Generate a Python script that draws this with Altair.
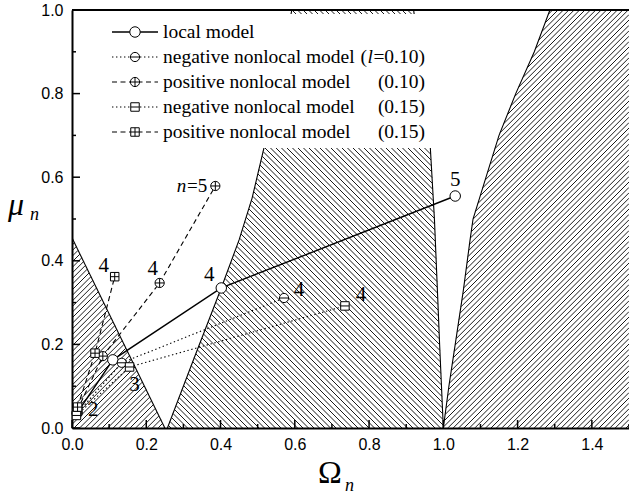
import altair as alt
import numpy as np
import pandas as pd

W, H = 557, 418          # plot area in px
OM_MAX, MU_MAX = 1.5, 1.0

# ---- region boundaries (Omega as a function of mu) ----
r1_mu = [0.0, 0.455]
r1_om = [0.25, 0.0]

r2_left_mu = [0.0, 0.17, 0.335, 0.45, 0.55, 0.67, 0.8, 1.0]
r2_left_om = [0.257, 0.33, 0.402, 0.45, 0.485, 0.517, 0.548, 0.592]
r2_right_mu = [0.0, 0.2, 0.33, 0.5, 0.67, 0.8, 1.0]
r2_right_om = [1.0, 0.99, 0.984, 0.976, 0.965, 0.948, 0.92]

r3_mu = [0.0, 0.1, 0.2, 0.33, 0.45, 0.5, 0.6, 0.7, 0.8, 0.9, 1.0]
r3_om = [1.0, 1.015, 1.032, 1.054, 1.072, 1.08, 1.115, 1.15, 1.195, 1.245, 1.287]

# ---- mode data ----
local_n = [2, 3, 4, 5]
local_om = [0.014, 0.110, 0.402, 1.032]
local_mu = [0.036, 0.163, 0.335, 0.555]

neg10_n = [2, 3, 4]
neg10_om = [0.013, 0.134, 0.571]
neg10_mu = [0.034, 0.156, 0.311]

pos10_n = [2, 3, 4, 5]
pos10_om = [0.014, 0.083, 0.236, 0.386]
pos10_mu = [0.042, 0.172, 0.347, 0.579]

neg15_n = [2, 3, 4]
neg15_om = [0.012, 0.155, 0.735]
neg15_mu = [0.030, 0.146, 0.292]

pos15_n = [2, 3, 4]
pos15_om = [0.015, 0.062, 0.115]
pos15_mu = [0.050, 0.179, 0.362]

CIRC = "M-1,0A1,1,0,1,1,1,0A1,1,0,1,1,-1,0Z"
SQ = "M-1,-1L1,-1L1,1L-1,1Z"
HBAR = "M-1,0L1,0"
VBAR = "M0,-1L0,1"
DOT = [1.4, 2.6]
DASH = [5, 3.5]

series = [
    dict(name="local model", n=local_n, om=local_om, mu=local_mu,
         shape=CIRC, size=110, dash=None, paren=None),
    dict(name="negative nonlocal model", n=neg10_n, om=neg10_om, mu=neg10_mu,
         shape=CIRC + HBAR, size=85, dash=DOT, paren="l"),
    dict(name="positive nonlocal model", n=pos10_n, om=pos10_om, mu=pos10_mu,
         shape=CIRC + HBAR + VBAR, size=85, dash=DASH, paren="(0.10)"),
    dict(name="negative nonlocal model", n=neg15_n, om=neg15_om, mu=neg15_mu,
         shape=SQ + HBAR, size=72, dash=DOT, paren="(0.15)"),
    dict(name="positive nonlocal model", n=pos15_n, om=pos15_om, mu=pos15_mu,
         shape=SQ + HBAR + VBAR, size=72, dash=DASH, paren="(0.15)"),
]

xsc = alt.Scale(domain=[0, OM_MAX], nice=False, zero=False)
ysc = alt.Scale(domain=[0, MU_MAX], nice=False, zero=False)
AX = alt.Axis(values=[0, 0.2, 0.4, 0.6, 0.8, 1.0, 1.2, 1.4], format=".1f", title=None,
              ticks=False, grid=False, domainWidth=2, domainColor="black",
              labelFont="Liberation Sans", labelFontSize=16, labelColor="black",
              labelPadding=8, labelFlush=False)
AY = alt.Axis(values=[0, 0.2, 0.4, 0.6, 0.8, 1.0], format=".1f", title=None,
              ticks=False, grid=False, domainWidth=2, domainColor="black",
              labelFont="Liberation Sans", labelFontSize=16, labelColor="black",
              labelPadding=9, labelFlush=False)


def xe(f):
    return alt.X(f, type="quantitative", scale=xsc, axis=AX)


def ye(f):
    return alt.Y(f, type="quantitative", scale=ysc, axis=AY)


# ---- hatching clipped to each region ----
def hatch(inside, rising, spacing):
    px = np.arange(0.0, W + 0.01, 0.25)
    cs = np.arange(-H, W, spacing) if rising else np.arange(0.0, W + H, spacing)
    rows = []
    for c in cs:
        py = px - c if rising else c - px
        om = px / W * OM_MAX
        mu = py / H * MU_MAX
        ok = inside(om, mu) & (mu >= 0) & (mu <= MU_MAX)
        idx = np.flatnonzero(ok)
        if idx.size < 2:
            continue
        br = np.flatnonzero(np.diff(idx) > 1)
        starts = np.r_[idx[0], idx[br + 1]]
        ends = np.r_[idx[br], idx[-1]]
        for s, e in zip(starts, ends):
            if e > s:
                rows.append(dict(x=om[s], y=mu[s], x2=om[e], y2=mu[e]))
    return pd.DataFrame(rows)


def in_r1(om, mu):
    return (mu <= r1_mu[-1]) & (om <= np.interp(mu, r1_mu, r1_om))


def in_r2(om, mu):
    return (om >= np.interp(mu, r2_left_mu, r2_left_om)) & (om <= np.interp(mu, r2_right_mu, r2_right_om))


def in_r3(om, mu):
    return om >= np.interp(mu, r3_mu, r3_om)


hatch_df = pd.concat([hatch(in_r1, True, 5.6), hatch(in_r2, False, 5.5), hatch(in_r3, True, 5.4)])

hatch_layer = alt.Chart(hatch_df).mark_rule(color="black", strokeWidth=0.9, clip=True).encode(
    x=xe("x"), y=ye("y"), x2="x2", y2="y2")

bnd_rows = []
for k, (m, o) in enumerate([(r1_mu, r1_om), (r2_left_mu, r2_left_om),
                            (r2_right_mu, r2_right_om), (r3_mu, r3_om)]):
    for mm, oo in zip(m, o):
        bnd_rows.append(dict(b=k, mu=mm, om=oo))
bnd_layer = alt.Chart(pd.DataFrame(bnd_rows)).mark_line(color="black", strokeWidth=1.1, clip=True).encode(
    x=xe("om"), y=ye("mu"), detail="b:N", order="mu:Q")

# ---- legend panel background ----
one = pd.DataFrame({"a": [0]})
legend_bg = alt.Chart(one).mark_rect(color="white").encode(
    x=alt.value(8), x2=alt.value(368), y=alt.value(4), y2=alt.value(138))

# ---- inward ticks ----
xmaj = [0, 0.2, 0.4, 0.6, 0.8, 1.0, 1.2, 1.4]
xmin = [0.1, 0.3, 0.5, 0.7, 0.9, 1.1, 1.3, 1.5]
ymaj = [0, 0.2, 0.4, 0.6, 0.8, 1.0]
ymin = [0.1, 0.3, 0.5, 0.7, 0.9]
tick_layers = [
    alt.Chart(pd.DataFrame({"v": xmaj})).mark_rule(color="black", strokeWidth=1.5).encode(
        x=xe("v"), y=alt.value(H), y2=alt.value(H - 8)),
    alt.Chart(pd.DataFrame({"v": xmin})).mark_rule(color="black", strokeWidth=1.5).encode(
        x=xe("v"), y=alt.value(H), y2=alt.value(H - 4)),
    alt.Chart(pd.DataFrame({"v": ymaj})).mark_rule(color="black", strokeWidth=1.5).encode(
        y=ye("v"), x=alt.value(0), x2=alt.value(8)),
    alt.Chart(pd.DataFrame({"v": ymin})).mark_rule(color="black", strokeWidth=1.5).encode(
        y=ye("v"), x=alt.value(0), x2=alt.value(4)),
]
top_frame = alt.Chart(one).mark_rule(color="black", strokeWidth=2).encode(
    x=alt.value(0), x2=alt.value(W + 2), y=alt.value(0))

# ---- mode curves and markers ----
line_layers, point_layers = [], []
for s in series:
    df = pd.DataFrame({"n": s["n"], "om": s["om"], "mu": s["mu"]})
    kw = dict(color="black", strokeWidth=1.1)
    if s["dash"]:
        kw["strokeDash"] = s["dash"]
    else:
        kw["strokeWidth"] = 1.4
    line_layers.append(alt.Chart(df).mark_line(**kw).encode(x=xe("om"), y=ye("mu"), order="n:Q"))
    point_layers.append(alt.Chart(df).mark_point(
        shape=s["shape"], size=s["size"], filled=True, fill="white", stroke="black",
        strokeWidth=1, opacity=1).encode(x=xe("om"), y=ye("mu")))

# mode-number labels: (series index, n, text, dx, dy)
lab_series = [0, 2, 4, 1, 3, 0, 3, 0]
lab_n = [4, 4, 4, 4, 4, 5, 3, 2]
lab_text = ["4", "4", "4", "4", "4", "5", "3", "2"]
lab_dx = [-12, -7, -11, 15, 16, 0, 5, 16]
lab_dy = [-13, -14, -11, -8, -11, -16, 18, -3]
text_layers = []
for si, n, t, dx, dy in zip(lab_series, lab_n, lab_text, lab_dx, lab_dy):
    s = series[si]
    i = s["n"].index(n)
    d = pd.DataFrame({"om": [s["om"][i]], "mu": [s["mu"][i]], "t": [t]})
    text_layers.append(alt.Chart(d).mark_text(
        font="Liberation Serif", fontSize=21, color="black", dx=dx, dy=dy,
        align="center", baseline="middle").encode(x=xe("om"), y=ye("mu"), text="t:N"))

# "n=5" next to the positive nonlocal n=5 point
i5 = pos10_n.index(5)
d5 = pd.DataFrame({"om": [pos10_om[i5]], "mu": [pos10_mu[i5]]})
text_layers.append(alt.Chart(d5).mark_text(
    font="Liberation Serif", fontSize=19, color="black", dx=-8, dy=0,
    align="right", baseline="middle", text="=5").encode(x=xe("om"), y=ye("mu")))
text_layers.append(alt.Chart(d5).mark_text(
    font="Liberation Serif", fontSize=19, fontStyle="italic", color="black", dx=-29, dy=0,
    align="right", baseline="middle", text="n").encode(x=xe("om"), y=ye("mu")))

# ---- legend ----
legend_layers = []
row_y = [22, 47, 72, 97, 122]
PAREN_R = 353
for s, yr in zip(series, row_y):
    kw = dict(color="black", strokeWidth=1.1)
    if s["dash"]:
        kw["strokeDash"] = s["dash"]
    else:
        kw["strokeWidth"] = 1.4
    legend_layers.append(alt.Chart(one).mark_rule(**kw).encode(
        x=alt.value(40), x2=alt.value(86), y=alt.value(yr)))
    legend_layers.append(alt.Chart(one).mark_point(
        shape=s["shape"], size=s["size"], filled=True, fill="white", stroke="black",
        strokeWidth=1, opacity=1).encode(x=alt.value(63), y=alt.value(yr)))
    legend_layers.append(alt.Chart(one).mark_text(
        font="Liberation Serif", fontSize=19.5, color="black", align="left", baseline="middle",
        text=s["name"]).encode(x=alt.value(91), y=alt.value(yr)))
    if s["paren"] == "l":
        for txt, xr, style in [("=0.10)", PAREN_R, "normal"), ("l", PAREN_R - 52, "italic"),
                               ("(", PAREN_R - 58, "normal")]:
            legend_layers.append(alt.Chart(one).mark_text(
                font="Liberation Serif", fontSize=19.5, fontStyle=style, color="black",
                align="right", baseline="middle", text=txt).encode(x=alt.value(xr), y=alt.value(yr)))
    elif s["paren"]:
        legend_layers.append(alt.Chart(one).mark_text(
            font="Liberation Serif", fontSize=19.5, color="black", align="right", baseline="middle",
            text=s["paren"]).encode(x=alt.value(PAREN_R), y=alt.value(yr)))

# ---- axis titles ----
titles = [
    alt.Chart(one).mark_text(font="Liberation Serif", fontSize=32, color="black",
                             align="center", baseline="middle", text="Ω").encode(
        x=alt.value(258), y=alt.value(463)),
    alt.Chart(one).mark_text(font="Liberation Serif", fontSize=18, fontStyle="italic", color="black",
                             align="left", baseline="middle", text="n").encode(
        x=alt.value(273), y=alt.value(476)),
    alt.Chart(one).mark_text(font="Liberation Serif", fontSize=32, fontStyle="italic", color="black",
                             align="center", baseline="middle", text="μ").encode(
        x=alt.value(-56), y=alt.value(195)),
    alt.Chart(one).mark_text(font="Liberation Serif", fontSize=18, fontStyle="italic", color="black",
                             align="left", baseline="middle", text="n").encode(
        x=alt.value(-42), y=alt.value(205)),
]

chart = alt.layer(
    hatch_layer, bnd_layer, legend_bg, *tick_layers, top_frame,
    *line_layers, *point_layers, *text_layers, *legend_layers, *titles
).properties(
    width=W, height=H,
    autosize=alt.AutoSizeParams(type="none"),
    padding={"left": 72, "top": 10, "right": 0, "bottom": 67},
    background="white",
).configure_view(stroke=None)

chart.save("out.html", embed_options={"renderer": "svg", "actions": False})
